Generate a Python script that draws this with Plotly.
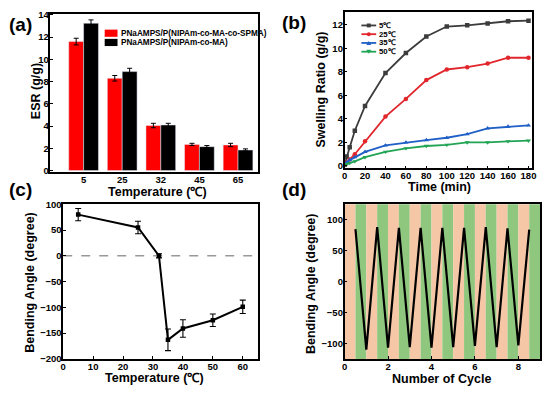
import plotly.graph_objects as go

W, H = 550, 395

# ---------------- data ----------------
# (a) equilibrium swelling ratio
temps_a = ["5", "25", "32", "45", "65"]
series_a = ["PNaAMPS/P(NIPAm-co-MA-co-SPMA)", "PNaAMPS/P(NIPAm-co-MA)"]
esr_spma = [11.6, 8.3, 4.05, 2.35, 2.3]
esr_spma_err = [0.3, 0.25, 0.2, 0.1, 0.15]
esr_ma = [13.25, 8.9, 4.1, 2.15, 1.85]
esr_ma_err = [0.3, 0.3, 0.15, 0.1, 0.1]

# (b) swelling kinetics
time_b = [0, 2, 5, 10, 20, 40, 60, 80, 100, 120, 140, 160, 180]
labels_b = ["5℃", "25℃", "35℃", "50℃"]
sr_5 = [0.1, 0.8, 1.6, 3.0, 5.1, 7.9, 9.6, 11.0, 11.85, 11.95, 12.1, 12.3, 12.35]
sr_25 = [0.1, 0.3, 0.55, 1.0, 2.1, 4.2, 5.7, 7.3, 8.2, 8.4, 8.7, 9.2, 9.2]
sr_35 = [0.1, 0.3, 0.5, 0.75, 1.2, 1.75, 2.0, 2.2, 2.4, 2.7, 3.2, 3.35, 3.45]
sr_50 = [0.05, 0.15, 0.25, 0.4, 0.75, 1.2, 1.5, 1.7, 1.8, 2.0, 2.0, 2.1, 2.15]

# (c) bending angle vs temperature
temp_c = [5, 25, 32, 35, 40, 50, 60]
angle_c = [80, 55, 0, -163, -141, -125, -99]
angle_c_err = [12, 12, 4, 21, 17, 12, 13]

# (d) cyclic bending
cycle_d = [0.5, 1, 1.5, 2, 2.5, 3, 3.5, 4, 4.5, 5, 5.5, 6, 6.5, 7, 7.5, 8, 8.5]
angle_d = [85, -110, 88, -107, 87, -106, 87, -107, 87, -106, 87, -104, 88, -106, 86, -103, 84]
stripe_edges = [0, 0.5, 1, 1.5, 2, 2.5, 3, 3.5, 4, 4.5, 5, 5.5, 6, 6.5, 7, 7.5, 8, 8.5, 9]
stripe_colors = ["#F6C7A7", "#8FC77F"]

# ---------------- helpers ----------------
def px(x):
    return x / W

def py(y):
    return 1 - y / H

FONT = "Liberation Sans, Arial, sans-serif"
tickfont = dict(family=FONT, size=9.5, color="black", weight="bold")

def axis_style(**kw):
    d = dict(showline=True, linecolor="black", linewidth=1.5, mirror=True,
             ticks="inside", ticklen=3, tickwidth=1.2, tickcolor="black",
             showgrid=False, zeroline=False, tickfont=tickfont, ticklabelstandoff=-2)
    d.update(kw)
    return d

fig = go.Figure()

# (a) bars
fig.add_trace(go.Bar(x=temps_a, y=esr_spma, name=series_a[0], marker_color="#FF0000",
                     error_y=dict(type="data", array=esr_spma_err, color="black", thickness=1, width=2.5),
                     xaxis="x", yaxis="y", showlegend=False))
fig.add_trace(go.Bar(x=temps_a, y=esr_ma, name=series_a[1], marker_color="#000000",
                     error_y=dict(type="data", array=esr_ma_err, color="black", thickness=1, width=2.5),
                     xaxis="x", yaxis="y", showlegend=False))

# (b) lines
colors_b = ["#3C3C3C", "#E1262C", "#1F5FC6", "#22A455"]
symbols_b = ["square", "circle", "triangle-up", "triangle-down"]
for lab, ys, c, s in zip(labels_b, [sr_5, sr_25, sr_35, sr_50], colors_b, symbols_b):
    fig.add_trace(go.Scatter(x=time_b, y=ys, mode="lines+markers", name=lab,
                             line=dict(color=c, width=1.8),
                             marker=dict(symbol=s, size=4.5, color=c),
                             xaxis="x2", yaxis="y2", showlegend=False))

# (c)
fig.add_trace(go.Scatter(x=temp_c, y=angle_c, mode="lines+markers",
                         line=dict(color="black", width=2),
                         marker=dict(symbol="square", size=4.5, color="black"),
                         error_y=dict(type="data", array=angle_c_err, color="black", thickness=1.1, width=3),
                         xaxis="x3", yaxis="y3", showlegend=False))

# (d)
fig.add_trace(go.Scatter(x=cycle_d, y=angle_d, mode="lines",
                         line=dict(color="black", width=2.2),
                         xaxis="x4", yaxis="y4", showlegend=False))

shapes = []
# stripes in (d)
for i in range(len(stripe_edges) - 1):
    shapes.append(dict(type="rect", xref="x4", yref="y4 domain",
                       x0=stripe_edges[i], x1=stripe_edges[i + 1], y0=0, y1=1,
                       fillcolor=stripe_colors[i % 2], line=dict(width=0), layer="below"))
# zero dashed line in (c)
shapes.append(dict(type="line", xref="x3 domain", yref="y3", x0=0, x1=1, y0=0, y1=0,
                   line=dict(color="#666666", width=1, dash="dash"), layer="below"))

annotations = []

def ann(text, x, y, size, angle=0, anchor="center"):
    annotations.append(dict(text=text, x=px(x), y=py(y), xref="paper", yref="paper",
                            showarrow=False, textangle=angle, xanchor=anchor, yanchor="middle",
                            font=dict(family=FONT, size=size, color="black", weight="bold")))

# legend (a)
leg_a_rows = [28, 37.5]
for lab, c, yy in zip(series_a, ["#FF0000", "#000000"], leg_a_rows):
    shapes.append(dict(type="rect", xref="paper", yref="paper",
                       x0=px(103), x1=px(116), y0=py(yy - 3.7), y1=py(yy + 3.7),
                       fillcolor=c, line=dict(width=0)))
    ann(lab, 117, yy, 8.2, anchor="left")

# legend (b)
leg_b_rows = [20, 29, 38, 47]
for lab, c, s, yy in zip(labels_b, colors_b, symbols_b, leg_b_rows):
    shapes.append(dict(type="line", xref="paper", yref="paper",
                       x0=px(363), x1=px(378), y0=py(yy), y1=py(yy),
                       line=dict(color=c, width=1.8)))
    if s == "square":
        shapes.append(dict(type="rect", xref="paper", yref="paper",
                           x0=px(368.5), x1=px(372.5), y0=py(yy - 2), y1=py(yy + 2),
                           fillcolor=c, line=dict(width=0)))
    elif s == "circle":
        shapes.append(dict(type="circle", xref="paper", yref="paper",
                           x0=px(368.5), x1=px(372.5), y0=py(yy - 2), y1=py(yy + 2),
                           fillcolor=c, line=dict(width=0)))
    else:
        d = 1 if s == "triangle-up" else -1
        x0, x1, xm = px(368), px(373), px(370.5)
        ya, yb = py(yy + 2 * d), py(yy - 2 * d)
        shapes.append(dict(type="path", xref="paper", yref="paper",
                           path=f"M {x0} {ya} L {x1} {ya} L {xm} {yb} Z",
                           fillcolor=c, line=dict(width=0)))
    ann(lab, 378.5, yy, 7.8, anchor="left")

# panel labels
ann("(a)", 18, 19, 19)
ann("(b)", 295, 17, 19)
ann("(c)", 18, 189, 19)
ann("(d)", 295, 189, 19)

# axis titles
ann("ESR (g/g)", 33, 88, 12.5, angle=-90)
ann("Temperature (℃)", 156, 191, 12.5)
ann("Swelling Ratio (g/g)", 322, 86, 12.5, angle=-90)
ann("Time (min)", 442, 186.5, 12.5)
ann("Bending Angle (degree)", 27, 284, 12.5, angle=-90)
ann("Temperature (℃)", 153, 383, 12.5)
ann("Bending Angle (degree)", 312, 286, 12.5, angle=-90)
ann("Number of Cycle", 444, 384, 12.5)

fig.update_layout(
    width=W, height=H, margin=dict(l=0, r=0, t=0, b=0),
    paper_bgcolor="white", plot_bgcolor="white",
    barmode="group", bargap=0.23, bargroupgap=0,
    shapes=shapes, annotations=annotations, showlegend=False,
    xaxis=axis_style(domain=[px(48), px(258)], range=[-0.86, 4.51], anchor="y", ticks=""),
    yaxis=axis_style(domain=[py(171), py(8)], range=[-0.15, 14.1], dtick=2, anchor="x"),
    xaxis2=axis_style(domain=[px(346), px(536)], range=[0, 183.6], dtick=20, anchor="y2"),
    yaxis2=axis_style(domain=[py(167), py(6)], range=[-0.2, 13.1], dtick=2, anchor="x2"),
    xaxis3=axis_style(domain=[px(61), px(258)], range=[0, 65], dtick=10, anchor="y3"),
    yaxis3=axis_style(domain=[py(363), py(204)], range=[-200, 100], dtick=50, anchor="x3"),
    xaxis4=axis_style(domain=[px(346), px(544)], range=[0, 9], dtick=2, anchor="y4"),
    yaxis4=axis_style(domain=[py(363), py(204)], range=[-125, 125], tickvals=[-100, -50, 0, 50, 100], anchor="x4"),
)

fig.write_html("out.html", config={"displayModeBar": False},
               post_script="document.body.style.margin='0';")
